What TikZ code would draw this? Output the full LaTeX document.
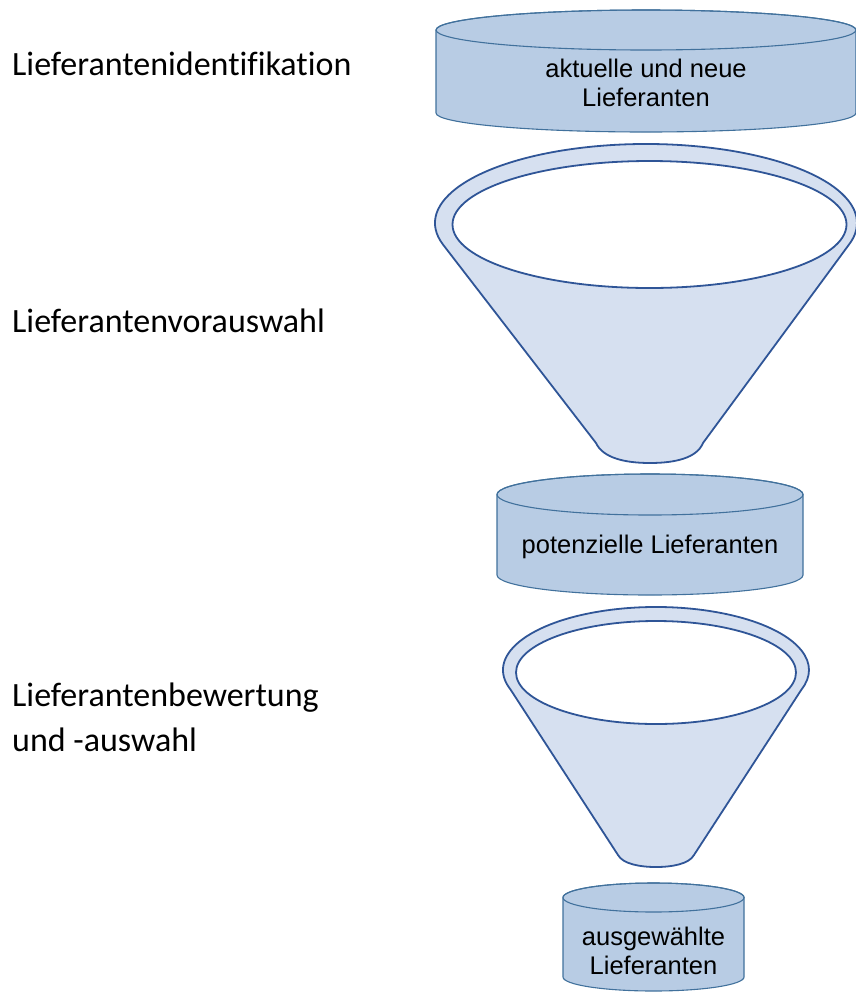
\documentclass[tikz,border=0pt]{standalone}
\usepackage{fontspec}
\setmainfont{Liberation Sans}
\newfontfamily\calfont[Ligatures=NoCommon]{Carlito}
\definecolor{cylfill}{HTML}{B8CCE4}
\definecolor{cylline}{HTML}{41719C}
\definecolor{funfill}{HTML}{D6E0F0}
\definecolor{funline}{HTML}{2F5597}
\begin{document}
\begin{tikzpicture}[x=1pt,y=1pt,
  cyl/.style={fill=cylfill,draw=cylline,line width=1.1pt},
  fun/.style={fill=funfill,draw=funline,line width=1.8pt,line join=round},
  hole/.style={fill=white,draw=funline,line width=1.8pt},
  steplabel/.style={anchor=base west,inner sep=0pt,font=\calfont\fontsize{34}{45}\selectfont,align=left},
  boxtext/.style={inner sep=0pt,font=\fontsize{25.5}{29.5}\selectfont,align=center}]
\useasboundingbox (0,0) rectangle (856,-994);
% left labels
\node[steplabel] (l1) at (12,-75) {Lieferantenidentifikation};
\node[steplabel] (l2) at (12,-332) {Lieferantenvorauswahl};
\node[steplabel,anchor=west] (l3) at (12,-717) {Lieferantenbewertung\\und -auswahl};
% cylinder 1
\path[cyl] (436,-30) -- (436,-113) arc[start angle=180,end angle=360,x radius=210,y radius=19] -- (856,-30) arc[start angle=0,end angle=180,x radius=210,y radius=20] -- cycle;
\draw[cyl,fill=none] (646,-30) ellipse[x radius=210,y radius=20];
\node[boxtext] (c1) at (646,-83) {aktuelle und neue\\Lieferanten};
% funnel 1
\path[fun] (646,-223) ++(196:211 and 79) arc[start angle=196,end angle=-16,x radius=211,y radius=79]
  -- (703,-443) .. controls (697,-458) and (675,-463) .. (650,-463)
  .. controls (625,-463) and (603,-458) .. (596,-443) -- cycle;
\draw[hole] (649.5,-224.5) ellipse[x radius=197,y radius=63.5];
% cylinder 2
\path[cyl] (497,-494.5) -- (497,-575) arc[start angle=180,end angle=360,x radius=153,y radius=20] -- (803,-494.5) arc[start angle=0,end angle=180,x radius=153,y radius=20.5] -- cycle;
\draw[cyl,fill=none] (650,-494.5) ellipse[x radius=153,y radius=20.5];
\node[boxtext] (c2) at (650,-547) {potenzielle Lieferanten};
% funnel 2
\path[fun] (656,-670) ++(198:153 and 63) arc[start angle=198,end angle=-18,x radius=153,y radius=63]
  -- (694,-855) .. controls (689,-864) and (672,-867) .. (656,-867)
  .. controls (640,-867) and (623,-864) .. (618,-855) -- cycle;
\draw[hole] (656,-672.5) ellipse[x radius=140,y radius=51.5];
% cylinder 3
\path[cyl] (563,-897.5) -- (563,-977) arc[start angle=180,end angle=360,x radius=90.5,y radius=14] -- (744,-897.5) arc[start angle=0,end angle=180,x radius=90.5,y radius=14.5] -- cycle;
\draw[cyl,fill=none] (653.5,-897.5) ellipse[x radius=90.5,y radius=14.5];
\node[boxtext] (c3) at (653.5,-951) {ausgewählte\\Lieferanten};
\end{tikzpicture}
\end{document}
